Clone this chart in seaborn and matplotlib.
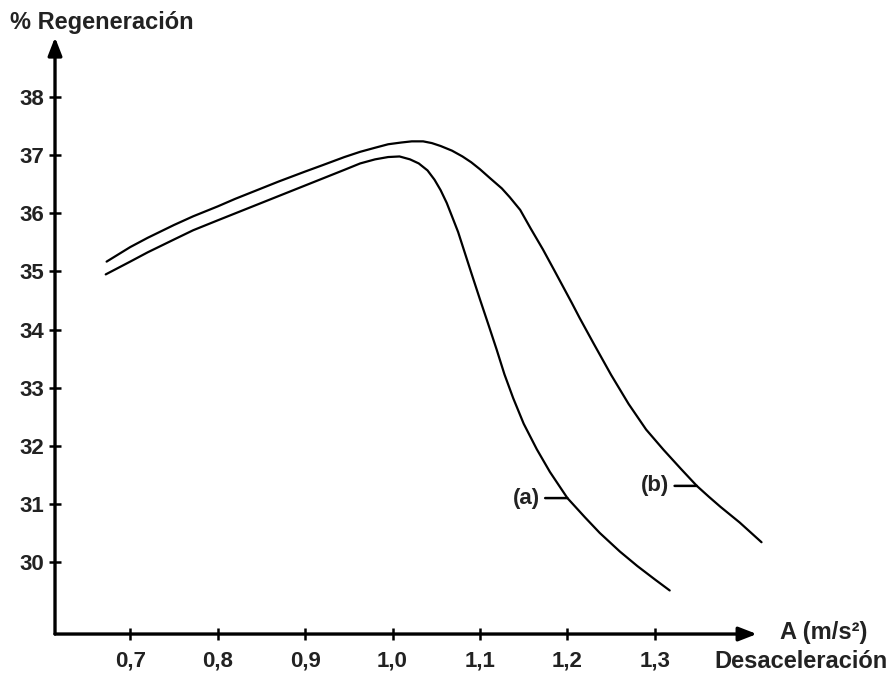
import matplotlib
matplotlib.use("Agg")
import matplotlib.pyplot as plt
import pandas as pd
import seaborn as sns

# Curve (a): regeneration vs. deceleration
accel_a = [0.672, 0.70, 0.72, 0.75, 0.772, 0.80, 0.82, 0.85, 0.87, 0.90, 0.92, 0.945,
           0.963, 0.98, 0.995, 1.008, 1.02, 1.03, 1.04, 1.048, 1.055, 1.062, 1.068,
           1.075, 1.081, 1.09, 1.1, 1.11, 1.119, 1.128, 1.138, 1.15, 1.165, 1.18,
           1.2, 1.22, 1.237, 1.26, 1.28, 1.30, 1.317]
regen_a = [34.95, 35.17, 35.33, 35.55, 35.71, 35.88, 36.0, 36.18, 36.3, 36.48, 36.6,
           36.75, 36.86, 36.93, 36.97, 36.98, 36.93, 36.86, 36.74, 36.58, 36.40,
           36.18, 35.95, 35.68, 35.40, 34.98, 34.52, 34.07, 33.66, 33.23, 32.82,
           32.38, 31.94, 31.55, 31.10, 30.77, 30.50, 30.18, 29.93, 29.70, 29.51]

# Curve (b)
accel_b = [0.673, 0.70, 0.72, 0.75, 0.772, 0.80, 0.82, 0.85, 0.87, 0.90, 0.92, 0.945,
           0.963, 0.98, 0.995, 1.01, 1.022, 1.035, 1.045, 1.055, 1.068, 1.08, 1.09,
           1.1, 1.112, 1.125, 1.134, 1.146, 1.158, 1.172, 1.185, 1.195, 1.205, 1.214,
           1.23, 1.25, 1.27, 1.29, 1.31, 1.33, 1.348, 1.362, 1.375, 1.397, 1.422]
regen_b = [35.17, 35.42, 35.58, 35.80, 35.95, 36.12, 36.25, 36.43, 36.55, 36.72, 36.83,
           36.97, 37.06, 37.13, 37.19, 37.22, 37.24, 37.24, 37.21, 37.16, 37.08,
           36.98, 36.88, 36.76, 36.60, 36.43, 36.28, 36.06, 35.74, 35.38, 35.02,
           34.74, 34.46, 34.20, 33.76, 33.22, 32.72, 32.28, 31.93, 31.60, 31.31,
           31.12, 30.95, 30.68, 30.34]

x_ticks = [0.7, 0.8, 0.9, 1.0, 1.1, 1.2, 1.3]
x_tick_labels = ["0,7", "0,8", "0,9", "1,0", "1,1", "1,2", "1,3"]
y_ticks = [30, 31, 32, 33, 34, 35, 36, 37, 38]

# Points where the curve labels are attached
label_names = ["(a)", "(b)"]
label_x = [1.2, 1.348]
label_y = [31.10, 31.31]

df = pd.concat([
    pd.DataFrame({"A": accel_a, "R": regen_a, "curva": "a"}),
    pd.DataFrame({"A": accel_b, "R": regen_b, "curva": "b"}),
])

sns.set_theme(style="white")
plt.rcParams["font.family"] = ["Liberation Sans", "DejaVu Sans"]
plt.rcParams["font.weight"] = "bold"

fig = plt.figure(figsize=(8.93, 6.74), dpi=100)
ax = fig.add_axes([0.0616, 0.0593, 0.799, 0.887])

sns.lineplot(data=df, x="A", y="R", hue="curva", palette=["black", "black"],
             sort=False, estimator=None, legend=False, linewidth=1.6, ax=ax)
for ln in ax.get_lines():
    ln.set_solid_joinstyle("round")
    ln.set_solid_capstyle("round")

xmin, xmax = 0.614, 1.43
ymin, ymax = 28.76, 39.05
ax.set_xlim(xmin, xmax)
ax.set_ylim(ymin, ymax)

for s in ax.spines.values():
    s.set_visible(False)

# Axes drawn as arrows
arrow_kw = dict(arrowstyle="-|>,head_length=0.9,head_width=0.35", color="black",
                lw=2.4, shrinkA=0, shrinkB=0)
ax.annotate("", xy=(1.4166, ymin), xytext=(xmin, ymin), arrowprops=arrow_kw,
            annotation_clip=False)
ax.annotate("", xy=(xmin, 39.03), xytext=(xmin, ymin), arrowprops=arrow_kw,
            annotation_clip=False)

ax.set_xticks(x_ticks)
ax.set_xticklabels(x_tick_labels)
ax.set_yticks(y_ticks)
ax.set_yticklabels([str(v) for v in y_ticks])
ax.tick_params(axis="both", direction="inout", length=9, width=1.8, color="black",
               labelsize=16, labelcolor="#222222", bottom=True, left=True)
ax.tick_params(axis="x", pad=7)
ax.tick_params(axis="y", pad=3)
ax.set_xlabel("")
ax.set_ylabel("")

# Axis titles
fig.text(10 / 893, 1 - 22 / 674, "% Regeneración", fontsize=17, fontweight="bold",
         va="center", ha="left", color="#222222")
fig.text(780 / 893, 1 - 633 / 674, "A (m/s²)", fontsize=17, fontweight="bold",
         va="center", ha="left", color="#222222")
fig.text(714 / 893, 1 - 662 / 674, "Desaceleración", fontsize=17, fontweight="bold",
         va="center", ha="left", color="#222222")

# Curve labels with short leader lines
for name, lx, ly in zip(label_names, label_x, label_y):
    ax.annotate("", xy=(lx, ly), xytext=(-16, 0), textcoords="offset points",
                arrowprops=dict(arrowstyle="-", color="black", lw=1.8,
                                shrinkA=0, shrinkB=0))
    ax.annotate(name, xy=(lx, ly), xytext=(-20, 0), textcoords="offset points",
                ha="right", va="center", fontsize=16, fontweight="bold",
                color="#222222")

fig.savefig("out.png", dpi=100, facecolor="white")
